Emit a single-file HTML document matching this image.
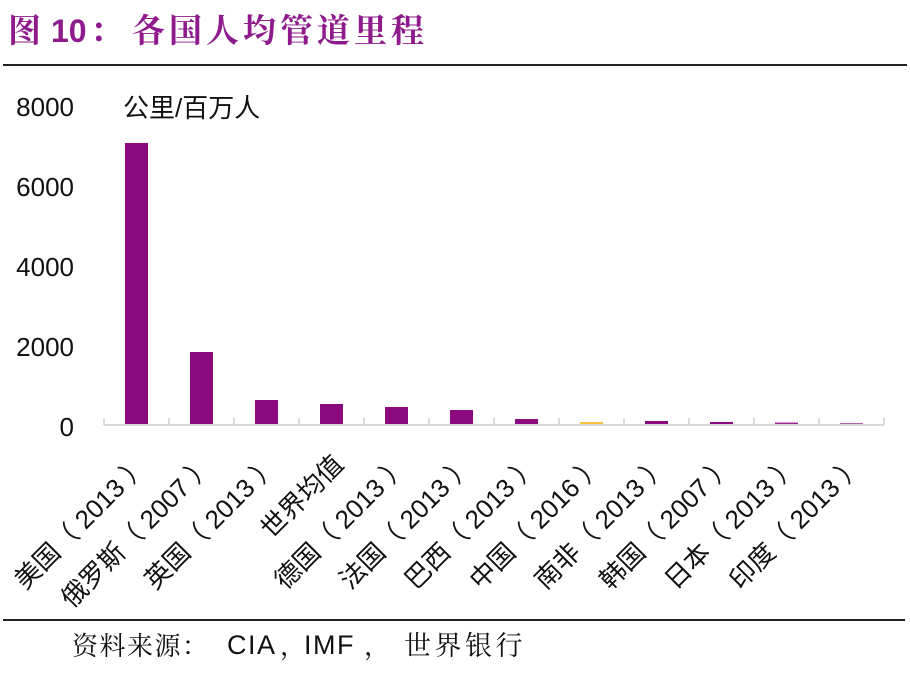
<!DOCTYPE html>
<html>
<head>
<meta charset="utf-8">
<style>
html,body{margin:0;padding:0;background:#fff;}
svg{display:block;}
</style>
</head>
<body>
<svg width="910" height="673" viewBox="0 0 910 673" xmlns="http://www.w3.org/2000/svg">
  <rect width="910" height="673" fill="#fff"/>
  <!-- Title -->
  <g fill="#8E1A8C">
    <text x="8" y="42" font-family="'Noto Serif CJK SC', serif" font-weight="700" font-size="33">图</text>
    <text x="51" y="42" font-family="'Liberation Sans', sans-serif" font-weight="700" font-size="32">10</text>
    <text x="90" y="42" font-family="'Noto Serif CJK SC', serif" font-weight="700" font-size="33">：</text>
    <text x="132" y="42" font-family="'Noto Serif CJK SC', serif" font-weight="700" font-size="33" letter-spacing="4">各国人均管道里程</text>
  </g>
  <line x1="3" y1="65" x2="907" y2="65" stroke="#222" stroke-width="2"/>

  <!-- Y axis labels -->
  <g font-family="'Liberation Sans', sans-serif" font-size="26" fill="#111" text-anchor="end">
    <text x="74" y="116">8000</text>
    <text x="74" y="196">6000</text>
    <text x="74" y="276">4000</text>
    <text x="74" y="356">2000</text>
    <text x="74" y="436">0</text>
  </g>
  <text x="123" y="117" font-family="'Liberation Sans', 'Noto Sans CJK SC', sans-serif" font-size="26" fill="#111">公里/百万人</text>

  <!-- Bars -->
  <g fill="#8B0A80">
    <rect x="125" y="143" width="23" height="282"/>
    <rect x="190" y="352" width="23" height="73"/>
    <rect x="255" y="400" width="23" height="25"/>
    <rect x="320" y="404" width="23" height="21"/>
    <rect x="385" y="407" width="23" height="18"/>
    <rect x="450" y="410" width="23" height="15"/>
    <rect x="515" y="419" width="23" height="6"/>
    <rect x="645" y="421" width="23" height="4"/>
    <rect x="710" y="422" width="23" height="3"/>
    <rect x="775" y="422.5" width="23" height="2.5" fill="#9A2A90"/>
    <rect x="840" y="423" width="23" height="2" fill="#B060A8"/>
  </g>
  <rect x="580" y="422" width="23" height="3" fill="#F5C242"/>

  <!-- X axis -->
  <g stroke="#d9d9d9" stroke-width="2">
    <line x1="104" y1="425" x2="884" y2="425"/>
    <line x1="104" y1="418" x2="104" y2="425"/>
    <line x1="169" y1="418" x2="169" y2="425"/>
    <line x1="234" y1="418" x2="234" y2="425"/>
    <line x1="299" y1="418" x2="299" y2="425"/>
    <line x1="364" y1="418" x2="364" y2="425"/>
    <line x1="429" y1="418" x2="429" y2="425"/>
    <line x1="494" y1="418" x2="494" y2="425"/>
    <line x1="559" y1="418" x2="559" y2="425"/>
    <line x1="624" y1="418" x2="624" y2="425"/>
    <line x1="689" y1="418" x2="689" y2="425"/>
    <line x1="754" y1="418" x2="754" y2="425"/>
    <line x1="819" y1="418" x2="819" y2="425"/>
    <line x1="884" y1="418" x2="884" y2="425"/>
  </g>

  <!-- X labels -->
  <g font-family="'Liberation Sans', 'Noto Sans CJK SC', sans-serif" font-size="26" fill="#111" text-anchor="end">
    <text transform="translate(150,466) rotate(-45)">美国（ 2013 ）</text>
    <text transform="translate(215,466) rotate(-45)">俄罗斯（ 2007 ）</text>
    <text transform="translate(280,466) rotate(-45)">英国（ 2013 ）</text>
    <text transform="translate(345,466) rotate(-45)">世界均值</text>
    <text transform="translate(410,466) rotate(-45)">德国（ 2013 ）</text>
    <text transform="translate(475,466) rotate(-45)">法国（ 2013 ）</text>
    <text transform="translate(540,466) rotate(-45)">巴西（ 2013 ）</text>
    <text transform="translate(605,466) rotate(-45)">中国（ 2016 ）</text>
    <text transform="translate(670,466) rotate(-45)">南非（ 2013 ）</text>
    <text transform="translate(735,466) rotate(-45)">韩国（ 2007 ）</text>
    <text transform="translate(800,466) rotate(-45)">日本（ 2013 ）</text>
    <text transform="translate(865,466) rotate(-45)">印度（ 2013 ）</text>
  </g>

  <!-- Bottom -->
  <line x1="3" y1="620" x2="905" y2="620" stroke="#222" stroke-width="2"/>
  <g fill="#111">
    <text x="72" y="655" font-family="'Noto Serif CJK SC', serif" font-size="26" letter-spacing="1.5">资料来源：</text>
    <text x="227" y="654" font-family="'Liberation Sans', sans-serif" font-size="27" letter-spacing="1.5">CIA</text>
    <text x="280" y="655" font-family="'Noto Serif CJK SC', serif" font-size="26">，</text>
    <text x="304" y="654" font-family="'Liberation Sans', sans-serif" font-size="27" letter-spacing="1.5">IMF</text>
    <text x="364" y="655" font-family="'Noto Serif CJK SC', serif" font-size="26">，</text>
    <text x="404" y="655" font-family="'Noto Serif CJK SC', serif" font-size="27" letter-spacing="3.5">世界银行</text>
  </g>
</svg>
</body>
</html>
